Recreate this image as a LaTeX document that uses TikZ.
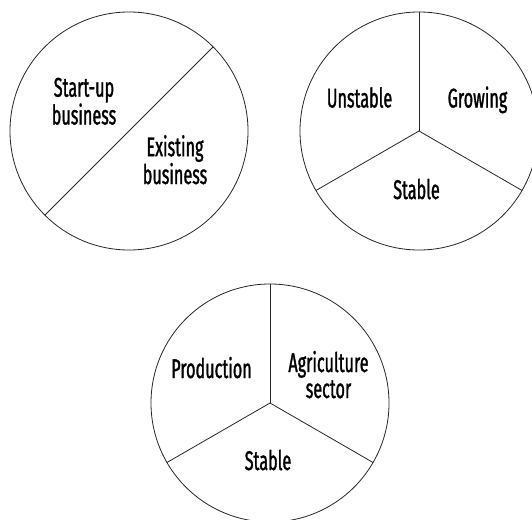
\documentclass[tikz,border=0pt]{standalone}
\usepackage{fontspec}
\setmainfont{Fira Sans}[FakeStretch=0.6, FakeBold=1.2]
\usepackage{tikz}

\begin{document}
\begin{tikzpicture}[x=1pt, y=-1pt,
    pie/.style={draw=black!85, line width=0.8pt, circle, minimum size=238pt, inner sep=0pt, outer sep=0pt},
    spoke/.style={draw=black!85, line width=0.8pt},
    lbl/.style={font=\fontsize{27}{26}\selectfont, align=center, anchor=base, inner sep=0pt}]
    \useasboundingbox (0,0) rectangle (532,519);

    % Circle 1: two halves
    \node[pie] (c1) at (129,131) {};
    \draw[spoke] (c1.225) -- (c1.45);
    \node[lbl] (startup) at (84,124.5) {Start-up\\business};
    \node[lbl] (existing) at (175,184) {Existing\\business};

    % Circle 2: three parts
    \node[pie] (c2) at (419,131) {};
    \draw[spoke] (c2.center) -- (c2.90);
    \draw[spoke] (c2.center) -- (c2.210);
    \draw[spoke] (c2.center) -- (c2.330);
    \node[lbl] (unstable) at (359.5,107.5) {Unstable};
    \node[lbl] (growing) at (477.5,107.5) {Growing};
    \node[lbl] (stable) at (416.5,199) {Stable};

    % Circle 3: three parts
    \node[pie] (c3) at (270,403) {};
    \draw[spoke] (c3.center) -- (c3.90);
    \draw[spoke] (c3.center) -- (c3.210);
    \draw[spoke] (c3.center) -- (c3.330);
    \node[lbl] (production) at (211.5,378) {Production};
    \node[lbl] (agri) at (328.5,398) {Agriculture\\sector};
    \node[lbl] (stable3) at (268,470) {Stable};
\end{tikzpicture}
\end{document}
